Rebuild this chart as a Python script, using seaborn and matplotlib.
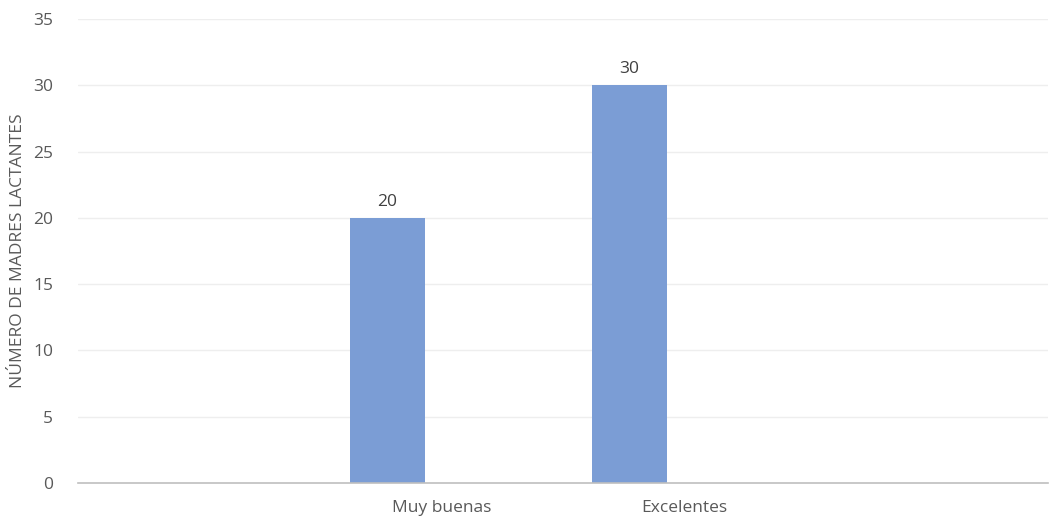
import pandas as pd
import numpy as np
import seaborn as sns
import matplotlib
matplotlib.use("Agg")
import matplotlib.pyplot as plt

# Datos del gráfico
categorias = ["", "Muy buenas", "Excelentes", " "]
categorias_con_valor = ["Muy buenas", "Excelentes"]
valores = [20, 30]
series = ["Madres", "Otra"]

df = pd.DataFrame({
    "categoria": categorias_con_valor,
    "valor": valores,
    "serie": [series[0]] * len(valores),
})

sns.set_theme(style="white")
plt.rcParams['font.family'] = ['Open Sans', 'DejaVu Sans']

color_barra = "#7B9DD5"
color_texto = "#595959"
tam = 12.5

fig = plt.figure(figsize=(10.5, 5.21), dpi=100)
ax = fig.add_axes([0.0743, 0.0729, 0.9237, 0.8906])

sns.barplot(data=df, x="categoria", y="valor", hue="serie",
            order=categorias, hue_order=series,
            palette=[color_barra, color_barra], saturation=1,
            width=0.9, gap=0.31, linewidth=0,
            dodge=True, legend=False, ax=ax)

for cont in ax.containers:
    ax.bar_label(cont, fmt="%g", padding=6, fontsize=tam, color="#404040")

ax.set_ylim(0, 35)
ax.set_yticks(np.arange(0, 36, 5))
ax.set_xlim(-0.5, len(categorias) - 0.5)
ax.grid(axis="y", color="#EEEEEE", linewidth=1)
ax.set_axisbelow(True)

for s in ["top", "right", "left"]:
    ax.spines[s].set_visible(False)
ax.spines["bottom"].set_color("#BFBFBF")
ax.spines["bottom"].set_linewidth(1.2)

ax.tick_params(axis="y", length=0, pad=18, labelsize=tam, labelcolor=color_texto)
ax.tick_params(axis="x", length=0, pad=12, labelsize=tam, labelcolor=color_texto)

ax.set_xlabel("")
ax.set_ylabel("NÚMERO DE MADRES LACTANTES", fontsize=tam, color=color_texto, labelpad=5)

fig.savefig("out.png", dpi=100)
